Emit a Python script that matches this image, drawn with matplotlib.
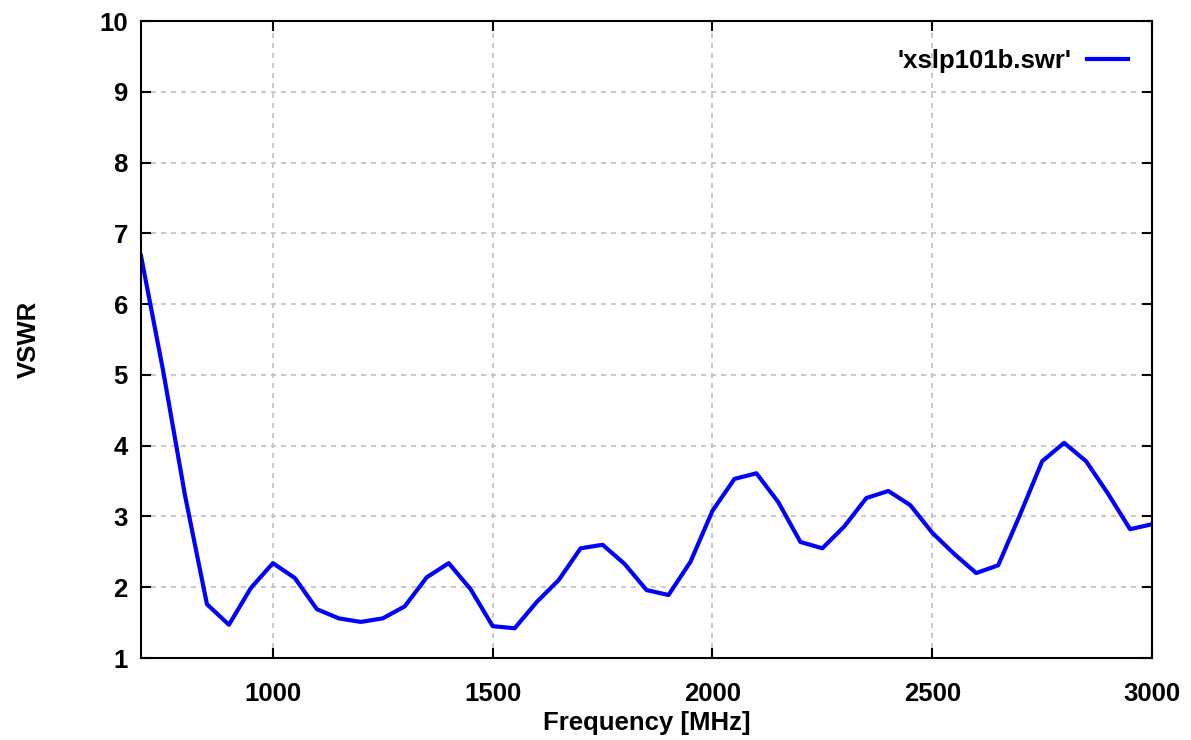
import numpy as np
import matplotlib
matplotlib.use("Agg")
import matplotlib.pyplot as plt

plt.rcParams['font.family'] = ['Liberation Sans', 'DejaVu Sans']
plt.rcParams['font.weight'] = 'bold'

# frequency [MHz] and VSWR
freq = [700, 750, 800, 850, 900, 950, 1000, 1050, 1100, 1150, 1200, 1250,
        1300, 1350, 1400, 1450, 1500, 1550, 1600, 1650, 1700, 1750, 1800,
        1850, 1900, 1950, 2000, 2050, 2100, 2150, 2200, 2250, 2300, 2350,
        2400, 2450, 2500, 2550, 2600, 2650, 2700, 2750, 2800, 2850, 2900,
        2950, 3000]
vswr = [6.68, 5.07, 3.30, 1.76, 1.47, 1.99, 2.34, 2.13, 1.69, 1.56, 1.51, 1.56,
        1.73, 2.14, 2.34, 1.97, 1.45, 1.42, 1.79, 2.10, 2.55, 2.60, 2.33,
        1.96, 1.89, 2.36, 3.08, 3.53, 3.61, 3.20, 2.64, 2.55, 2.86, 3.26,
        3.36, 3.16, 2.77, 2.47, 2.20, 2.31, 3.03, 3.78, 4.04, 3.78, 3.32,
        2.82, 2.89]

fig = plt.figure(figsize=(11.91, 7.40), dpi=100)
ax = fig.add_axes([0.1184, 0.1108, 0.8489, 0.8608])

ax.plot(freq, vswr, color='#0000ff', lw=3, label="'xslp101b.swr'")

ax.set_xlim(700, 3000)
ax.set_ylim(1, 10)
ax.set_xticks([1000, 1500, 2000, 2500, 3000])
ax.set_yticks(range(1, 11))
ax.tick_params(direction='in', top=True, right=True, length=7, width=1.5,
               labelsize=18.5)
ax.tick_params(axis='x', pad=17)
ax.tick_params(axis='y', pad=9.5)
for lab in ax.get_xticklabels() + ax.get_yticklabels():
    lab.set_fontweight('bold')
for s in ax.spines.values():
    s.set_linewidth(1.5)

ax.grid(True, color='#c0c0c0', linestyle=(0, (3, 3)), lw=1.2)

ax.set_xlabel('Frequency [MHz]', fontsize=18.5, fontweight='bold', labelpad=4)
ax.set_ylabel('VSWR', fontsize=18.5, fontweight='bold', labelpad=42)

leg = ax.legend(loc='upper right', frameon=False, fontsize=18.5,
                markerfirst=False, handlelength=1.6, handletextpad=0.6,
                borderaxespad=0.3, bbox_to_anchor=(0.994, 0.984))
for t in leg.get_texts():
    t.set_fontweight('bold')

fig.savefig('out.png', dpi=100)
